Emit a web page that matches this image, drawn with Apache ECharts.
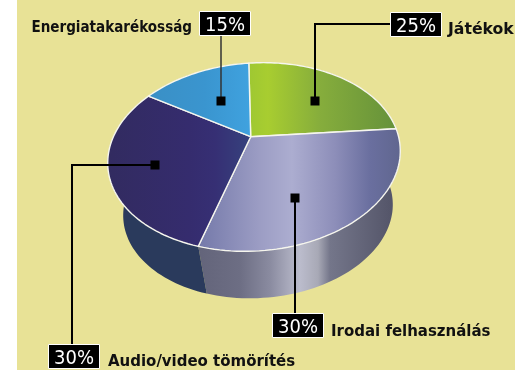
<!DOCTYPE html>
<html><head><meta charset="utf-8">
<style>html,body{margin:0;padding:0;background:#fff}#c{width:515px;height:370px}</style>
<script src="https://cdn.jsdelivr.net/npm/echarts@6/dist/echarts.min.js"></script>
</head><body><div id="c"></div>
<script>
const categories = ['Játékok','Irodai felhasználás','Audio/video tömörítés','Energiatakarékosság'];
const shares = [25,30,30,15];
const shareLabels = ['25%','30%','30%','15%'];

const START_DEG = 1.5;
const TOP = {cx:254,cy:157,a:146.5,b:94,rot:-4*Math.PI/180};
const BOT = {cx:258,cy:210,a:135,b:88,rot:-4*Math.PI/180};
const HUB = [250.7,136.7];

function toNorm(E,p){const dx=p[0]-E.cx,dy=p[1]-E.cy,c=Math.cos(-E.rot),s=Math.sin(-E.rot);
  return [(dx*c-dy*s)/E.a,(dx*s+dy*c)/E.b];}
function fromNorm(E,w){const x=w[0]*E.a,y=w[1]*E.b,c=Math.cos(E.rot),s=Math.sin(E.rot);
  return [E.cx+x*c-y*s,E.cy+x*s+y*c];}
const pk=toNorm(TOP,HUB),kr=Math.hypot(pk[0],pk[1]),kf=1/(1+Math.sqrt(1-kr*kr));
const A=[pk[0]*kf,pk[1]*kf];
// Perspective view of a flat disc: a share of the turn maps to a point on the unit rim.
function rimUnit(share){
  const t=(share/100*360+START_DEG-90)*Math.PI/180,zr=Math.cos(t),zi=Math.sin(t);
  const nr=zr+A[0],ni=zi+A[1];
  const dr=1+(A[0]*zr+A[1]*zi),di=A[0]*zi-A[1]*zr;
  const m=dr*dr+di*di;
  return [(nr*dr+ni*di)/m,(ni*dr-nr*di)/m];
}
function arc(E,from,to){const pts=[],n=Math.max(6,Math.round((to-from)*2));
  for(let i=0;i<=n;i++)pts.push(fromNorm(E,rimUnit(from+(to-from)*i/n)));return pts;}

function grad(x0,x1,stops){return new echarts.graphic.LinearGradient(x0,0,x1,0,
  stops.map(s=>({offset:(s[0]-x0)/(x1-x0),color:s[1]})),true);}
const topFills=[
  grad(250,400,[[250,'#9fc832'],[268,'#a8cd30'],[320,'#86ad3c'],[395,'#66923a']]),
  grad(195,400,[[195,'#7277a8'],[260,'#9c9dc4'],[292,'#acadd0'],[335,'#8d8eb9'],[370,'#6a6f9f'],[400,'#60668f']]),
  grad(108,252,[[108,'#322b60'],[190,'#352c6e'],[215,'#362f74'],[252,'#36437e']]),
  grad(152,254,[[152,'#3a90c6'],[205,'#3a95cf'],[254,'#40a3e0']])
];
const wallFills=[
  '#5a5b70',
  grad(194,400,[[194,'#626379'],[240,'#6d6e84'],[270,'#8a8ba0'],[300,'#bbbccc'],[318,'#a8a9b6'],[330,'#74768a'],[390,'#55566a']]),
  '#2a3a5c',
  '#2a3a5c'
];

const cums=[];shares.reduce((s,v,i)=>(cums[i]=s,s+v),0);
const rows=shares.map((v,i)=>[v,cums[i]]);

function wallItem(params,api){
  const v=api.value(0),c=api.value(1),up=arc(TOP,c,c+v),lo=arc(BOT,c,c+v).reverse();
  return {type:'polygon',shape:{points:up.concat(lo)},style:{fill:wallFills[params.dataIndex],stroke:null}};
}
function faceItem(params,api){
  const v=api.value(0),c=api.value(1);
  return {type:'polygon',shape:{points:[HUB].concat(arc(TOP,c,c+v))},
    style:{fill:topFills[params.dataIndex],stroke:'#f6f6ee',lineWidth:1.4,lineJoin:'round'}};
}

const callouts=[
 {i:3,path:[[221,101],[221,35]],w:1.5,col:'#333',box:[199,11],name:[192,28,'right'],sx:.94},
 {i:0,path:[[315,101],[315,24],[390,24]],w:2,col:'#000',box:[390,12],name:[448,30,'left'],sx:1.09},
 {i:1,path:[[295,198],[295,313]],w:2,col:'#000',box:[272,313],name:[331,332,'left'],sx:1.04},
 {i:2,path:[[155,165],[72,165],[72,344]],w:2,col:'#000',box:[48,344],name:[108,362,'left'],sx:1.04}
];
const g=[{type:'rect',shape:{x:17,y:0,width:498,height:370},style:{fill:'#e8e296'},z:-10,silent:true}];
const FONT='"DejaVu Sans Condensed","DejaVu Sans",sans-serif';
callouts.forEach(k=>{
  g.push({type:'polyline',shape:{points:k.path},style:{stroke:k.col,lineWidth:k.w,fill:null},z:20});
  const m=k.path[0];
  g.push({type:'rect',shape:{x:m[0]-4.5,y:m[1]-4.5,width:9,height:9},style:{fill:'#000'},z:21});
  g.push({type:'rect',shape:{x:k.box[0]+.5,y:k.box[1]+.5,width:51,height:24},style:{fill:'#000',stroke:'#fff',lineWidth:1},z:22});
  g.push({type:'text',x:k.box[0]+26,y:k.box[1]+14.5,z:23,style:{text:shareLabels[k.i],fill:'#fff',
    font:'500 20px '+FONT,align:'center',verticalAlign:'middle'}});
  g.push({type:'text',x:k.name[0],y:k.name[1],scaleX:k.sx,z:23,style:{text:categories[k.i],fill:'#111',
    font:'bold 16px '+FONT,align:k.name[2],verticalAlign:'middle'}});
});

const chart=echarts.init(document.getElementById('c'),null,{renderer:'canvas'});
chart.setOption({
  animation:false,backgroundColor:'#fff',
  graphic:{elements:g},
  series:[
    {type:'custom',coordinateSystem:'none',renderItem:wallItem,data:rows,z:2,silent:true},
    {type:'custom',coordinateSystem:'none',renderItem:faceItem,data:rows,z:3,silent:true}
  ]
});
</script></body></html>
